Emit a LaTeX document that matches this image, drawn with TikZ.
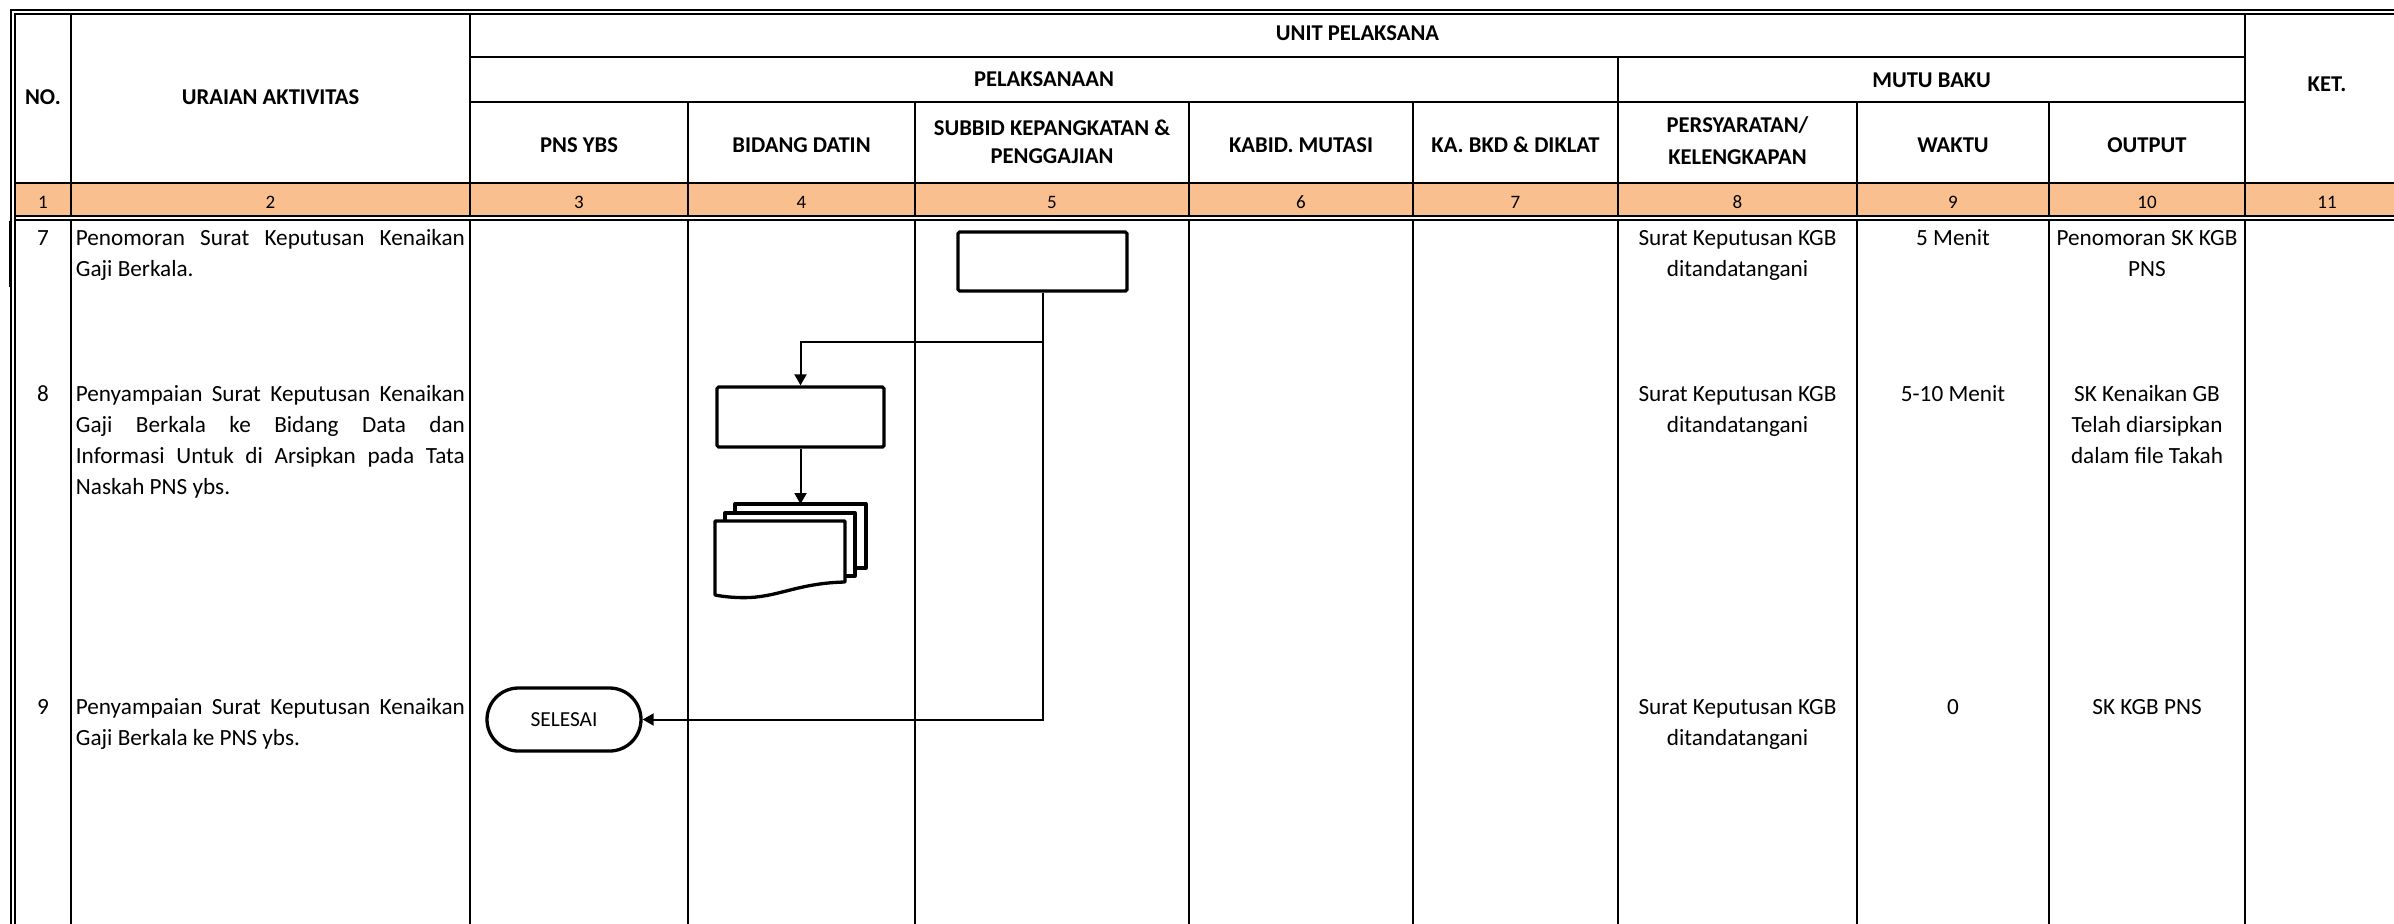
\documentclass[tikz,border=0pt]{standalone}
\usepackage{fontspec}
\setmainfont{Carlito}
\usetikzlibrary{arrows.meta,shapes.misc}
\definecolor{peach}{HTML}{FABF8F}
\newcommand\hdf{\fontsize{11.3pt}{14pt}\selectfont\bfseries}
\newcommand\txf{\fontsize{11.6pt}{15.5pt}\selectfont}
\newcommand\nmf{\fontsize{9.5pt}{11pt}\selectfont}
\newcommand\slf{\fontsize{10.7pt}{13pt}\selectfont}
\newlength\dw \setlength\dw{194.5pt}
\newcommand\jl[1]{\makebox[\dw][s]{#1}}
\begin{document}
\begin{tikzpicture}[x=0.5pt,y=-0.5pt,
  grid/.style={line width=1pt, line cap=rect},
  hd/.style={font=\hdf, inner sep=0pt, anchor=base},
  tx/.style={font=\txf, inner sep=0pt, anchor=base},
  txl/.style={font=\txf, inner sep=0pt, anchor=base west},
  nm/.style={font=\nmf, inner sep=0pt, anchor=base},
  proc/.style={draw, line width=1.65pt, fill=white, inner sep=0pt, rounded corners=0.8pt},
  term/.style={draw, rounded rectangle, line width=1.65pt, fill=white, inner sep=0pt, font=\slf},
  conn/.style={line width=1pt},
  arr/.style={conn, -{Triangle[length=5.5pt,width=6pt]}}]
\useasboundingbox (0,0) rectangle (2394,923);
\clip (0,0) rectangle (2394,923);
% number row fill
\fill[peach] (15,183) rectangle (2410,216);
% horizontal grid lines
\draw[grid] (11,10) -- (2410,10);
\draw[grid] (15,14) -- (2410,14);
\draw[grid] (470,57) -- (2245,57);
\draw[grid] (470,102) -- (2245,102);
\draw[grid] (15,183) -- (2410,183);
\draw[grid] (15,216) -- (2410,216);
\draw[grid] (15,220) -- (2410,220);
% left double border
\draw[grid] (11,10) -- (11,923);
\draw[grid] (15,14) -- (15,923);
\draw[line width=1.6pt] (10.5,221) -- (10.5,287);
% vertical lines, header part
\foreach \x in {71,470,2245} \draw[grid] (\x,14) -- (\x,216);
\foreach \x in {688,915,1189,1413,1857,2049} \draw[grid] (\x,102) -- (\x,216);
\draw[grid] (1618,57) -- (1618,216);
% vertical lines, body part
\foreach \x in {71,470,688,915,1189,1413,1618,1857,2049,2245} \draw[grid] (\x,220) -- (\x,923);

% header texts
\node[hd] (hno) at (43,104) {NO.};
\node[hd] (hur) at (270.5,104) {URAIAN AKTIVITAS};
\node[hd] (hup) at (1357.5,40.5) {UNIT PELAKSANA};
\node[hd] (hpl) at (1044,86.5) {PELAKSANAAN};
\node[hd] (hmb) at (1931.5,87) {MUTU BAKU};
\node[hd] (hket) at (2327,91) {KET.};
\node[hd] (hc3) at (579,152) {PNS YBS};
\node[hd] (hc4) at (801.5,152) {BIDANG DATIN};
\node[hd] (hc5a) at (1052,135) {SUBBID KEPANGKATAN \&};
\node[hd] (hc5b) at (1052,163) {PENGGAJIAN};
\node[hd] (hc6) at (1301,152) {KABID. MUTASI};
\node[hd] (hc7) at (1515.5,152) {KA. BKD \& DIKLAT};
\node[hd] (hc8a) at (1737.5,132) {PERSYARATAN/};
\node[hd] (hc8b) at (1737.5,164) {KELENGKAPAN};
\node[hd] (hc9) at (1953,152) {WAKTU};
\node[hd] (hc10) at (2147,152) {OUTPUT};
% number row
\node[nm] (n1) at (43,208) {1};
\node[nm] (n2) at (270.5,208) {2};
\node[nm] (n3) at (579,208) {3};
\node[nm] (n4) at (801.5,208) {4};
\node[nm] (n5) at (1052,208) {5};
\node[nm] (n6) at (1301,208) {6};
\node[nm] (n7) at (1515.5,208) {7};
\node[nm] (n8) at (1737.5,208) {8};
\node[nm] (n9) at (1953,208) {9};
\node[nm] (n10) at (2147,208) {10};
\node[nm] (n11) at (2327,208) {11};

% row 7
\node[tx] (r7no) at (43,245.5) {7};
\node[txl] (r7a) at (75.5,245.5) {\jl{Penomoran Surat Keputusan Kenaikan}};
\node[txl] (r7b) at (75.5,276.5) {Gaji Berkala.};
\node[tx] (r7p1) at (1737.5,245.5) {Surat Keputusan KGB};
\node[tx] (r7p2) at (1737.5,276.5) {ditandatangani};
\node[tx] (r7w) at (1953,245.5) {5 Menit};
\node[tx] (r7o1) at (2147,245.5) {Penomoran SK KGB};
\node[tx] (r7o2) at (2147,276.5) {PNS};
% row 8
\node[tx] (r8no) at (43,401) {8};
\node[txl] (r8a) at (75.5,401) {\jl{Penyampaian Surat Keputusan Kenaikan}};
\node[txl] (r8b) at (75.5,432) {\jl{Gaji Berkala ke Bidang Data dan}};
\node[txl] (r8c) at (75.5,463) {\jl{Informasi Untuk di Arsipkan pada Tata}};
\node[txl] (r8d) at (75.5,494) {Naskah PNS ybs.};
\node[tx] (r8p1) at (1737.5,401) {Surat Keputusan KGB};
\node[tx] (r8p2) at (1737.5,432) {ditandatangani};
\node[tx] (r8w) at (1953,401) {5-10 Menit};
\node[tx] (r8o1) at (2147,401) {SK Kenaikan GB};
\node[tx] (r8o2) at (2147,432) {Telah diarsipkan};
\node[tx] (r8o3) at (2147,463) {dalam file Takah};
% row 9
\node[tx] (r9no) at (43,714) {9};
\node[txl] (r9a) at (75.5,714) {\jl{Penyampaian Surat Keputusan Kenaikan}};
\node[txl] (r9b) at (75.5,745) {Gaji Berkala ke PNS ybs.};
\node[tx] (r9p1) at (1737.5,714) {Surat Keputusan KGB};
\node[tx] (r9p2) at (1737.5,745) {ditandatangani};
\node[tx] (r9w) at (1953,714) {0};
\node[tx] (r9o1) at (2147,714) {SK KGB PNS};

% flowchart shapes
\node[proc, minimum width=84.5pt, minimum height=29.5pt] (p1) at (1042.5,261.5) {};
\node[proc, minimum width=83.5pt, minimum height=30pt] (p2) at (800.5,417) {};
\node[term, minimum width=77pt, minimum height=31.5pt] (sel) at (564,719.5) {SELESAI};
% multi-document
\begin{scope}[line width=1.65pt, line join=round]
\filldraw[fill=white] (735,504) rectangle (866,568);
\filldraw[fill=white] (725,513) rectangle (855,576);
\filldraw[fill=white] (715,521) -- (845,521) -- (845,582)
  .. controls (800,583) and (780,596) .. (750,597.5)
  .. controls (738,598) and (725,597) .. (715,595) -- cycle;
\end{scope}
\coordinate (mdtop) at (800.5,504);
\coordinate (jn) at (1042.5,342);

% connectors
\draw[conn] (p1.south) -- (jn);
\draw[arr] (jn) -| (p2.north);
\draw[arr] (jn) |- (sel.east);
\draw[arr] (p2.south) -- (mdtop);
\end{tikzpicture}
\end{document}
